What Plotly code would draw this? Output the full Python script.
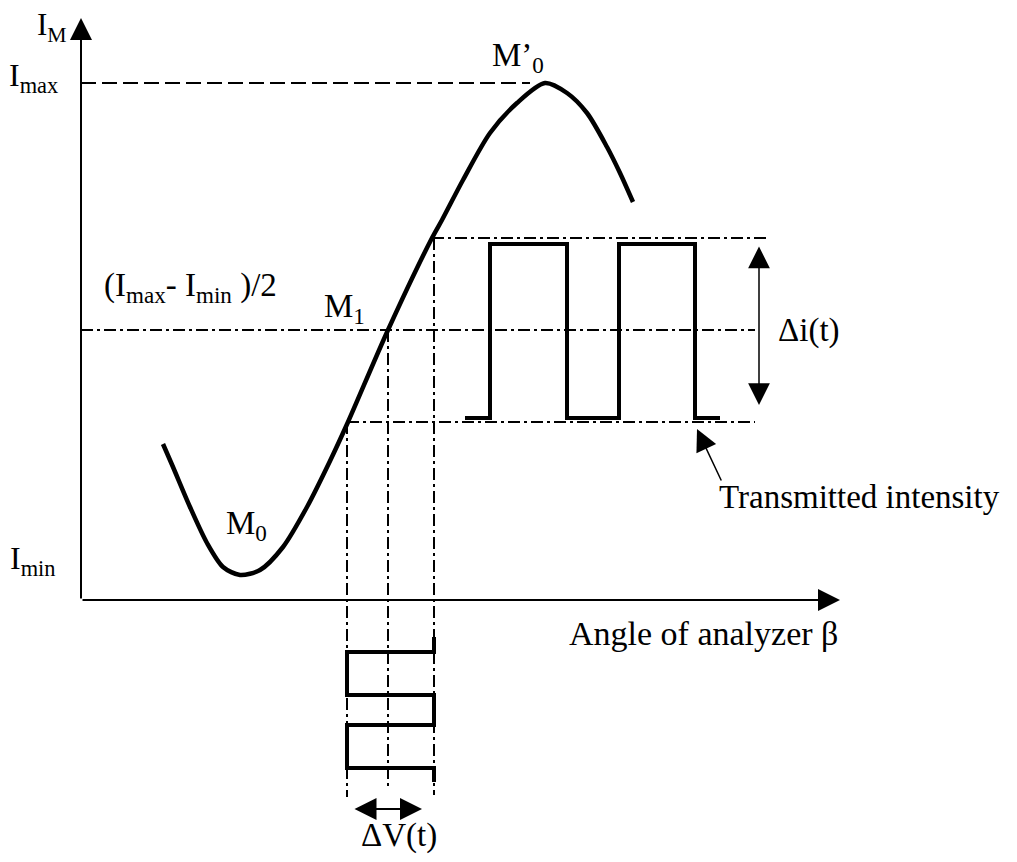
import plotly.graph_objects as go

# The page body keeps its 8px margin, so the figure is drawn 16px smaller
# and the axis ranges are shifted to keep reference pixel coordinates.
PAGE_W, PAGE_H = 1017, 862
PAD = 8

# Response curve I_M(beta) (pixel units, y pointing down)
curve_x = [163, 173, 190, 207, 223, 240, 260, 283, 307, 330, 348, 388, 432, 442, 463, 490, 517, 545, 567, 587, 607, 620, 633]
curve_y = [444, 467, 507, 543, 567, 575, 570, 547, 507, 461, 422, 330, 238, 220, 180, 133, 103, 83, 93, 113, 147, 173, 202]

# Transmitted intensity (square wave)
wave_x = [465, 490, 490, 567, 567, 619, 619, 695, 695, 720]
wave_y = [418, 418, 244, 244, 418, 418, 244, 244, 418, 418]

# Modulation voltage (square wave running down the page)
volt_x = [434, 434, 347, 347, 434, 434, 347, 347, 434, 434]
volt_y = [637, 652, 652, 695, 695, 725, 725, 768, 768, 782]

# Reference levels
ORIGIN_X, ORIGIN_Y = 81, 600
Y_AXIS_TIP = 18
X_AXIS_TIP = 840
I_MAX_Y = 83
PEAK_X = 530
MID_Y = 330
HIGH_Y = 238
LOW_Y = 422
LEFT_X, M1_X, RIGHT_X = 347, 388, 434

# Guide lines: (x0, x1, y0, y1)
guides = [
    (ORIGIN_X, 755, MID_Y, MID_Y),
    (432, 767, HIGH_Y, HIGH_Y),
    (LEFT_X, 755, LOW_Y, LOW_Y),
    (LEFT_X, LEFT_X, LOW_Y, 797),
    (M1_X, M1_X, MID_Y, 790),
    (RIGHT_X, RIGHT_X, HIGH_Y, 795),
]

SERIF = 'Liberation Serif, Times New Roman, serif'
DASHDOT = '12px,4px,3px,4px'

fig = go.Figure()

# Imax dashed line
fig.add_trace(go.Scatter(x=[ORIGIN_X, PEAK_X], y=[I_MAX_Y, I_MAX_Y], mode='lines',
                         line=dict(color='black', width=2, dash='15px,6px')))

for x0, x1, y0, y1 in guides:
    fig.add_trace(go.Scatter(x=[x0, x1], y=[y0, y1], mode='lines',
                             line=dict(color='black', width=2, dash=DASHDOT)))

# Curve
fig.add_trace(go.Scatter(x=curve_x, y=curve_y, mode='lines',
                         line=dict(color='black', width=4.5, shape='spline', smoothing=0.8)))

# Square waves
fig.add_trace(go.Scatter(x=wave_x, y=wave_y, mode='lines',
                         line=dict(color='black', width=4)))
fig.add_trace(go.Scatter(x=volt_x, y=volt_y, mode='lines',
                         line=dict(color='black', width=4)))

# Arrows (axes, delta arrows, pointer)
arrows = [
    # x, y (head), ax, ay (tail), width, size, both ends
    (ORIGIN_X, Y_AXIS_TIP, ORIGIN_X, ORIGIN_Y, 2, 2.2, False),
    (X_AXIS_TIP, ORIGIN_Y, ORIGIN_X, ORIGIN_Y, 2, 2.2, False),
    (759, 405, 759, 245, 1.5, 2.9, True),
    (422, 809, 353, 809, 2, 2.2, True),
    (697, 429, 722, 482, 1.5, 2.9, False),
]
for x, y, ax, ay, w, s, both in arrows:
    fig.add_annotation(x=x, y=y, ax=ax, ay=ay, xref='x', yref='y', axref='x', ayref='y',
                       text='', showarrow=True, arrowhead=2, arrowsize=s, arrowwidth=w,
                       arrowcolor='black', arrowside='end+start' if both else 'end',
                       startarrowhead=2, startarrowsize=s)

# Labels: text, x, y, anchor, size
labels = [
    ('I<sub>M</sub>', 52, 27, 'center', 31),
    ('I<sub>max</sub>', 33, 77, 'center', 32),
    ('I<sub>min</sub>', 33, 560, 'center', 32),
    ('(I<sub>max</sub>- I<sub>min</sub> )/2', 190, 287, 'center', 33),
    ('M<sub>1</sub>', 344, 308, 'center', 33),
    ('M<sub>0</sub>', 246, 525, 'center', 33),
    ('M’<sub>0</sub>', 518, 57, 'center', 33),
    ('Δi(t)', 809, 330, 'center', 33),
    ('ΔV(t)', 399, 835, 'center', 33),
    ('Transmitted intensity', 1002, 497, 'right', 33),
    ('Angle of analyzer β', 567, 633, 'left', 34),
]
for txt, x, y, anchor, size in labels:
    fig.add_annotation(x=x, y=y, xref='x', yref='y', text=txt, showarrow=False,
                       xanchor=anchor, font=dict(family=SERIF, size=size, color='black'))

fig.update_xaxes(range=[PAD, PAGE_W - PAD], visible=False)
fig.update_yaxes(range=[PAGE_H - PAD, PAD], visible=False)
fig.update_layout(width=PAGE_W - 2 * PAD, height=PAGE_H - 2 * PAD,
                  margin=dict(l=0, r=0, t=0, b=0),
                  plot_bgcolor='white', paper_bgcolor='white', showlegend=False)

fig.write_html('out.html')
